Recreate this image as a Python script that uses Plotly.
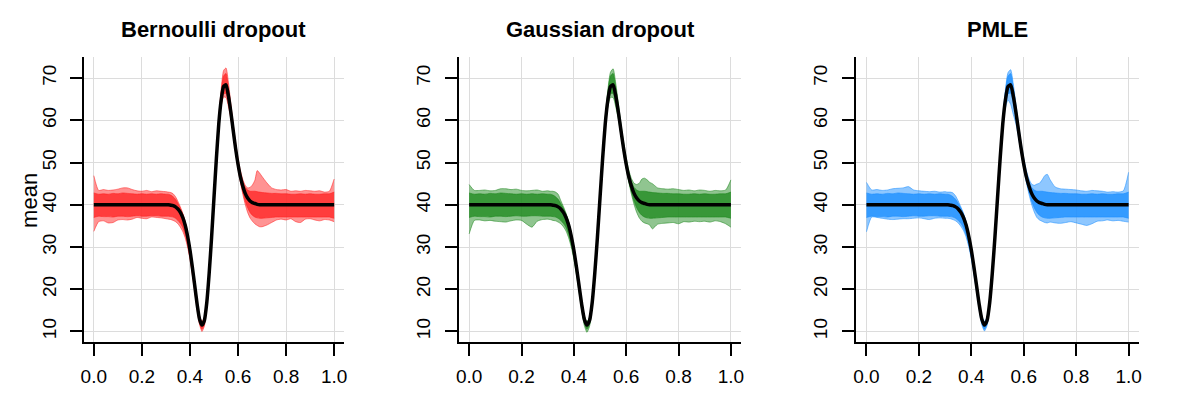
import plotly.graph_objects as go

# x positions of the sampled points (coarse on the flat parts, fine in the middle)
x_grid = [0.00, 0.02, 0.04, 0.06, 0.08, 0.10, 0.12, 0.14, 0.16, 0.18, 0.20, 0.22, 0.24, 0.26, 0.28, 0.30,
          0.31, 0.32, 0.33, 0.34, 0.35, 0.36, 0.37, 0.38, 0.39,
          0.40, 0.41, 0.42, 0.43, 0.44, 0.45, 0.46, 0.47, 0.48, 0.49,
          0.50, 0.51, 0.52, 0.53, 0.54, 0.55, 0.56, 0.57, 0.58, 0.59,
          0.60, 0.61, 0.62, 0.63, 0.64, 0.65, 0.66, 0.67, 0.68, 0.69,
          0.70, 0.72, 0.74, 0.76, 0.78, 0.80, 0.82, 0.84, 0.86, 0.88, 0.90, 0.92, 0.94, 0.96, 0.98, 1.00]

# black mean curve
mean_curve = [40, 40, 40, 40, 40, 40, 40, 40, 40, 40, 40, 40, 40, 40, 40, 40,
              40.0, 39.9, 39.8, 39.5, 39.0, 38.2, 37.0, 35.2, 32.6,
              29.3, 25.2, 20.8, 16.4, 12.9, 11.5, 12.6, 16.8, 23.8, 32.3,
              41.7, 51.0, 59.2, 64.8, 68.0, 68.4, 65.8, 62.0, 57.6, 53.3,
              49.6, 46.6, 44.4, 42.7, 41.6, 40.9, 40.5, 40.3, 40.1, 40.0,
              40, 40, 40, 40, 40, 40, 40, 40, 40, 40, 40, 40, 40, 40, 40, 40]

# dense core of the replicate curves (distance above / below the mean)
core_up = [2.8, 2.5, 2.6, 2.5, 2.7, 2.6, 2.8, 2.7, 2.6, 2.5, 2.6, 2.5, 2.6, 2.5, 2.6, 2.5,
           2.5, 2.4, 2.1, 1.8, 1.3, 1.0, 0.8, 0.7, 0.7,
           0.7, 0.7, 0.7, 0.7, 0.7, 0.7, 0.7, 0.7, 0.7, 0.7,
           0.7, 0.8, 1.1, 1.8, 2.5, 2.7, 2.0, 1.2, 0.9, 0.8,
           0.8, 0.9, 1.1, 1.4, 1.9, 2.3, 2.7, 2.9, 3.0, 3.0,
           2.9, 2.8, 2.7, 2.7, 2.6, 2.6, 2.5, 2.5, 2.6, 2.5, 2.6, 2.5, 2.5, 2.6, 2.6, 3.0]
core_lo = [3.0, 2.7, 2.8, 2.8, 2.9, 2.7, 2.7, 2.8, 2.7, 2.6, 2.7, 2.7, 2.6, 2.6, 2.7, 2.7,
           2.7, 2.7, 2.7, 2.7, 2.7, 2.6, 2.4, 2.2, 1.9,
           1.6, 1.2, 1.0, 0.9, 0.9, 1.0, 0.9, 0.7, 0.7, 0.7,
           0.7, 0.7, 0.7, 1.0, 1.7, 2.0, 1.7, 1.1, 0.8, 0.8,
           0.8, 1.0, 1.3, 1.8, 2.3, 2.7, 3.0, 3.2, 3.2, 3.2,
           3.2, 3.1, 3.0, 2.9, 2.9, 2.9, 2.9, 2.9, 2.9, 2.9, 2.9, 2.9, 2.9, 2.9, 2.9, 3.2]

# outer spread of the replicate curves, per panel
bern_up = [6.9, 3.4, 3.6, 3.4, 3.5, 3.7, 4.0, 4.0, 3.6, 3.3, 3.2, 3.4, 3.1, 3.3, 3.2, 3.1,
           3.0, 3.0, 2.8, 2.4, 1.8, 1.3, 1.0, 0.8, 0.8,
           0.8, 0.8, 0.8, 0.8, 0.8, 0.8, 0.8, 0.8, 0.8, 0.8,
           1.0, 1.2, 1.6, 2.6, 3.8, 4.0, 3.2, 2.0, 1.5, 1.4,
           1.4, 1.5, 1.6, 1.9, 2.4, 3.2, 4.2, 5.5, 8.0, 7.5,
           6.7, 5.2, 4.0, 3.6, 3.5, 3.6, 3.2, 3.3, 3.2, 3.4, 3.3, 3.2, 3.3, 3.0, 3.2, 6.1]
bern_lo = [6.3, 4.0, 3.8, 4.3, 4.2, 3.6, 3.5, 3.6, 3.4, 3.0, 3.2, 3.3, 2.9, 3.0, 3.1, 3.3,
           3.4, 3.4, 3.5, 3.5, 3.5, 3.5, 3.3, 3.0, 2.6,
           2.2, 1.8, 1.5, 1.3, 1.3, 1.5, 1.3, 1.0, 0.8, 0.8,
           0.8, 0.8, 1.0, 1.5, 2.5, 3.0, 2.5, 1.6, 1.2, 1.0,
           1.0, 1.3, 1.9, 2.6, 3.4, 4.0, 4.4, 4.8, 5.0, 5.2,
           5.2, 4.8, 4.2, 3.6, 3.4, 3.6, 3.3, 4.0, 4.2, 3.4, 3.3, 3.6, 3.8, 3.5, 3.6, 4.0]

gauss_up = [4.8, 3.4, 3.4, 3.5, 3.3, 3.4, 3.8, 3.8, 3.6, 3.7, 3.4, 3.3, 3.4, 3.5, 3.2, 3.3,
            3.2, 3.3, 3.2, 3.0, 2.0, 1.4, 1.0, 0.8, 0.8,
            0.8, 0.8, 0.8, 0.8, 0.8, 0.8, 0.8, 0.8, 0.8, 0.8,
            1.0, 1.2, 1.6, 2.5, 3.4, 3.8, 3.0, 2.0, 1.5, 1.4,
            1.5, 1.6, 1.8, 2.4, 3.2, 4.2, 5.6, 6.0, 5.8, 5.3,
            5.0, 4.0, 3.8, 3.7, 3.8, 3.6, 3.4, 3.5, 3.3, 3.5, 3.4, 3.2, 3.4, 3.3, 3.5, 5.9]
gauss_lo = [6.9, 3.7, 3.6, 3.8, 3.7, 3.9, 4.0, 4.1, 3.8, 3.6, 3.7, 4.6, 5.3, 3.9, 3.5, 3.4,
            3.5, 3.6, 3.6, 3.6, 3.5, 3.4, 3.2, 3.0, 2.6,
            2.2, 1.8, 1.5, 1.4, 1.5, 1.7, 1.4, 1.0, 0.8, 0.8,
            0.8, 0.8, 1.0, 1.5, 2.6, 3.0, 2.6, 1.7, 1.2, 1.0,
            1.0, 1.3, 1.9, 2.6, 3.4, 4.0, 4.4, 4.6, 4.6, 4.8,
            5.7, 4.6, 4.4, 4.3, 4.2, 4.5, 4.0, 4.1, 3.9, 4.0, 3.9, 4.1, 3.8, 4.0, 4.5, 5.3]

pmle_up = [5.3, 3.5, 3.6, 3.4, 3.5, 3.8, 3.9, 4.0, 4.3, 3.5, 3.3, 3.2, 3.1, 3.2, 3.0, 3.1,
           3.0, 3.1, 3.0, 2.6, 1.9, 1.3, 1.0, 0.8, 0.8,
           0.8, 0.8, 0.8, 0.8, 0.8, 0.8, 0.8, 0.8, 0.8, 0.8,
           1.0, 1.2, 1.6, 2.4, 3.3, 3.6, 2.8, 1.9, 1.5, 1.4,
           1.4, 1.5, 1.7, 2.2, 3.0, 4.0, 4.6, 5.6, 6.8, 7.2,
           6.0, 4.2, 3.8, 3.7, 3.6, 3.5, 3.3, 3.2, 3.4, 3.3, 3.2, 3.0, 3.1, 3.0, 3.3, 7.7]
pmle_lo = [6.4, 2.9, 3.0, 3.2, 3.4, 3.5, 3.4, 3.3, 3.3, 3.2, 3.1, 3.3, 3.5, 3.2, 3.1, 3.2,
           3.2, 3.2, 3.3, 3.3, 3.3, 3.3, 3.1, 2.8, 2.5,
           2.1, 1.7, 1.4, 1.3, 1.3, 1.4, 1.2, 1.0, 0.8, 0.8,
           0.8, 0.8, 1.0, 1.8, 3.2, 4.6, 4.4, 2.8, 1.6, 1.2,
           1.1, 1.3, 1.9, 2.6, 3.3, 3.9, 4.1, 4.2, 4.3, 4.3,
           4.1, 4.3, 4.4, 4.2, 4.0, 4.3, 4.6, 4.9, 4.5, 3.9, 3.8, 3.6, 3.8, 3.7, 3.9, 4.1]

titles = ["Bernoulli dropout", "Gaussian dropout", "PMLE"]
x_ticks = [0.0, 0.2, 0.4, 0.6, 0.8, 1.0]
y_ticks = [10, 20, 30, 40, 50, 60, 70]

panels = [
    (bern_up, bern_lo, "255,40,40"),
    (gauss_up, gauss_lo, "34,139,34"),
    (pmle_up, pmle_lo, "30,144,255"),
]

# the page body has an 8px margin, so the figure is 1192x392 and every
# position below is the target pixel minus 8
W, H = 1192, 392
x_domains = [(72.7, 334.0), (449.7, 734.3), (849.7, 1134.7)]
y_domain = [1 - 334 / H, 1 - 49 / H]
FONT = "Liberation Sans, Arial"

fig = go.Figure()

for i, (up, lo, rgb) in enumerate(panels):
    xa = "x" if i == 0 else "x%d" % (i + 1)
    ya = "y" if i == 0 else "y%d" % (i + 1)

    def band(top, bottom, fill, edge):
        lower = [m - d for m, d in zip(mean_curve, bottom)]
        upper = [m + d for m, d in zip(mean_curve, top)]
        fig.add_trace(go.Scatter(x=x_grid, y=lower, mode="lines", xaxis=xa, yaxis=ya,
                                 line=dict(width=0.8, color=edge, shape="spline", smoothing=0.6),
                                 hoverinfo="skip", showlegend=False))
        fig.add_trace(go.Scatter(x=x_grid, y=upper, mode="lines", xaxis=xa, yaxis=ya,
                                 line=dict(width=0.8, color=edge, shape="spline", smoothing=0.6),
                                 fill="tonexty", fillcolor=fill,
                                 hoverinfo="skip", showlegend=False))

    band(up, lo, "rgba(%s,0.5)" % rgb, "rgba(%s,0.7)" % rgb)
    band(core_up, core_lo, "rgba(%s,0.8)" % rgb, "rgba(%s,0.8)" % rgb)

    fig.add_trace(go.Scatter(x=x_grid, y=mean_curve, mode="lines", xaxis=xa, yaxis=ya,
                             line=dict(width=3.5, color="black", shape="spline", smoothing=0.6),
                             showlegend=False))

    l, r = x_domains[i]
    axis_common = dict(showline=True, linecolor="black", linewidth=2,
                       ticks="outside", ticklen=12, tickwidth=2, tickcolor="black",
                       showgrid=True, gridcolor="#dcdcdc", gridwidth=1, zeroline=False,
                       tickfont=dict(family=FONT, size=19, color="black"))
    fig.layout["xaxis" if i == 0 else "xaxis%d" % (i + 1)] = dict(
        axis_common, domain=[l / W, r / W], range=[-0.04, 1.04],
        tickvals=x_ticks, tickformat=".1f", anchor=ya, ticklabelstandoff=4)
    fig.layout["yaxis" if i == 0 else "yaxis%d" % (i + 1)] = dict(
        axis_common, domain=y_domain, range=[7.5, 75], tickvals=y_ticks,
        tickangle=-90, anchor=xa, ticklabelstandoff=7)

    fig.add_annotation(text="<b>%s</b>" % titles[i], x=(l + r) / 2 / W, y=1 - 21 / H,
                       xref="paper", yref="paper", showarrow=False, xanchor="center", yanchor="middle",
                       font=dict(family=FONT, size=22, color="black"))

fig.add_annotation(text="mean", x=17 / W, y=1 - 192 / H, xref="paper", yref="paper",
                   showarrow=False, textangle=-90, xanchor="center", yanchor="middle",
                   font=dict(family=FONT, size=22, color="black"))

fig.update_layout(width=W, height=H, margin=dict(l=0, r=0, t=0, b=0),
                  plot_bgcolor="white", paper_bgcolor="white")

fig.write_html("out.html")
